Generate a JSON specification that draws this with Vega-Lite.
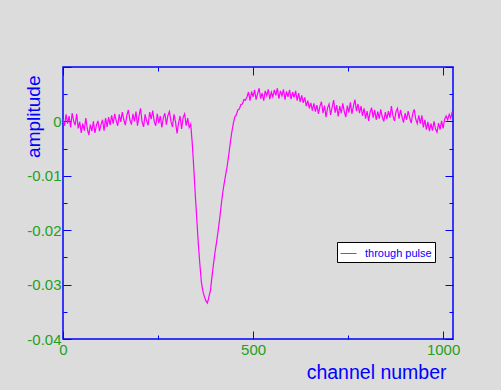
{
  "$schema": "https://vega.github.io/schema/vega-lite/v6.json",
  "autosize": {"type": "none"},
  "width": 390,
  "height": 272,
  "padding": {"left": 63, "top": 67, "right": 48, "bottom": 51},
  "background": "#dcdcdc",
  "config": {
    "view": {"stroke": "#0000ff", "strokeWidth": 1.5, "fill": null},
    "font": "Liberation Sans"
  },
  "data": {"values": [
    {"ch":0,"amp":0.0004},{"ch":4,"amp":-0.0008},{"ch":8,"amp":0.0013},{"ch":12,"amp":-0.0004},{"ch":16,"amp":0.001},{"ch":20,"amp":-0.0011},{"ch":24,"amp":0.0015},{"ch":28,"amp":0.0001},{"ch":32,"amp":-0.0007},{"ch":36,"amp":0.0014},
    {"ch":40,"amp":-0.0013},{"ch":44,"amp":-0.0001},{"ch":48,"amp":-0.0021},{"ch":52,"amp":-0.0004},{"ch":56,"amp":-0.0017},{"ch":60,"amp":0.0006},{"ch":64,"amp":-0.0014},{"ch":68,"amp":-0.0025},{"ch":72,"amp":-0.0006},{"ch":76,"amp":-0.0018},
    {"ch":80,"amp":0.0},{"ch":84,"amp":-0.0021},{"ch":88,"amp":-0.0007},{"ch":92,"amp":0.0001},{"ch":96,"amp":-0.0018},{"ch":100,"amp":-0.0006},{"ch":104,"amp":0.0003},{"ch":108,"amp":-0.0017},{"ch":112,"amp":0.0006},{"ch":116,"amp":-0.001},
    {"ch":120,"amp":0.0008},{"ch":124,"amp":-0.0007},{"ch":128,"amp":0.0011},{"ch":132,"amp":-0.0004},{"ch":136,"amp":0.0014},{"ch":140,"amp":0.0001},{"ch":144,"amp":-0.0008},{"ch":148,"amp":0.0013},{"ch":152,"amp":-0.0001},{"ch":156,"amp":0.0017},
    {"ch":160,"amp":0.0003},{"ch":164,"amp":-0.0007},{"ch":168,"amp":0.0011},{"ch":172,"amp":0.0021},{"ch":176,"amp":0.0003},{"ch":180,"amp":-0.0006},{"ch":184,"amp":0.0014},{"ch":188,"amp":0.0},{"ch":192,"amp":0.0018},{"ch":196,"amp":-0.0008},
    {"ch":200,"amp":0.001},{"ch":204,"amp":0.0024},{"ch":208,"amp":-0.0001},{"ch":212,"amp":-0.001},{"ch":216,"amp":0.0013},{"ch":220,"amp":0.0001},{"ch":224,"amp":-0.0007},{"ch":228,"amp":0.0017},{"ch":232,"amp":0.0004},{"ch":236,"amp":0.002},
    {"ch":240,"amp":0.0},{"ch":244,"amp":-0.0008},{"ch":248,"amp":0.0014},{"ch":252,"amp":-0.0003},{"ch":256,"amp":0.001},{"ch":260,"amp":-0.0011},{"ch":264,"amp":0.0007},{"ch":268,"amp":0.0015},{"ch":272,"amp":-0.0006},{"ch":276,"amp":0.0011},
    {"ch":280,"amp":0.0018},{"ch":284,"amp":0.0},{"ch":288,"amp":-0.001},{"ch":292,"amp":0.0013},{"ch":296,"amp":-0.0001},{"ch":300,"amp":-0.0022},{"ch":304,"amp":-0.0003},{"ch":308,"amp":0.001},{"ch":312,"amp":-0.0014},{"ch":316,"amp":0.0007},
    {"ch":320,"amp":0.0014},{"ch":324,"amp":-0.0008},{"ch":328,"amp":0.0006},{"ch":332,"amp":-0.0011},
    {"ch":336,"amp":-0.0005},{"ch":340,"amp":-0.004},{"ch":344,"amp":-0.0085},{"ch":348,"amp":-0.0135},{"ch":352,"amp":-0.018},{"ch":356,"amp":-0.0225},{"ch":360,"amp":-0.0262},{"ch":364,"amp":-0.0295},{"ch":368,"amp":-0.0312},{"ch":372,"amp":-0.0322},
    {"ch":376,"amp":-0.033},{"ch":380,"amp":-0.0334},{"ch":384,"amp":-0.0322},{"ch":388,"amp":-0.031},{"ch":392,"amp":-0.0285},{"ch":396,"amp":-0.0262},{"ch":400,"amp":-0.024},{"ch":404,"amp":-0.0222},{"ch":408,"amp":-0.0202},{"ch":412,"amp":-0.018},
    {"ch":416,"amp":-0.0155},{"ch":420,"amp":-0.0132},{"ch":424,"amp":-0.0114},{"ch":428,"amp":-0.0098},{"ch":432,"amp":-0.0082},{"ch":436,"amp":-0.0062},{"ch":440,"amp":-0.004},{"ch":444,"amp":-0.002},{"ch":448,"amp":-0.0004},{"ch":452,"amp":0.0008},
    {"ch":456,"amp":0.0012},{"ch":460,"amp":0.0021},{"ch":464,"amp":0.0023},{"ch":468,"amp":0.0031},{"ch":472,"amp":0.0032},{"ch":476,"amp":0.004},{"ch":480,"amp":0.0039},
    {"ch":484,"amp":0.0045},{"ch":488,"amp":0.0054},{"ch":492,"amp":0.0038},{"ch":496,"amp":0.0055},{"ch":500,"amp":0.0045},{"ch":504,"amp":0.0058},{"ch":508,"amp":0.004},{"ch":512,"amp":0.0051},{"ch":516,"amp":0.0061},{"ch":520,"amp":0.0042},
    {"ch":524,"amp":0.0052},{"ch":528,"amp":0.0038},{"ch":532,"amp":0.0056},{"ch":536,"amp":0.0047},{"ch":540,"amp":0.0059},{"ch":544,"amp":0.0041},{"ch":548,"amp":0.0054},{"ch":552,"amp":0.0045},{"ch":556,"amp":0.0058},{"ch":560,"amp":0.0048},
    {"ch":564,"amp":0.0061},{"ch":568,"amp":0.0042},{"ch":572,"amp":0.0056},{"ch":576,"amp":0.0047},{"ch":580,"amp":0.0059},{"ch":584,"amp":0.004},{"ch":588,"amp":0.0055},{"ch":592,"amp":0.0045},{"ch":596,"amp":0.0058},{"ch":600,"amp":0.0041},
    {"ch":604,"amp":0.0054},{"ch":608,"amp":0.0044},{"ch":612,"amp":0.0056},{"ch":616,"amp":0.0038},{"ch":620,"amp":0.0052},{"ch":624,"amp":0.0036},{"ch":628,"amp":0.0048},{"ch":632,"amp":0.0034},{"ch":636,"amp":0.0044},{"ch":640,"amp":0.0028},
    {"ch":644,"amp":0.0038},{"ch":648,"amp":0.0024},{"ch":652,"amp":0.0034},{"ch":656,"amp":0.002},
    {"ch":660,"amp":0.0033},{"ch":664,"amp":0.0018},{"ch":668,"amp":0.003},{"ch":672,"amp":0.0014},{"ch":676,"amp":0.0028},{"ch":680,"amp":0.0036},{"ch":684,"amp":0.0015},{"ch":688,"amp":0.0029},{"ch":692,"amp":0.0008},{"ch":696,"amp":0.0025},
    {"ch":700,"amp":0.0032},{"ch":704,"amp":0.0012},{"ch":708,"amp":0.0026},{"ch":712,"amp":0.0039},{"ch":716,"amp":0.0016},{"ch":720,"amp":0.003},{"ch":724,"amp":0.0009},{"ch":728,"amp":0.0028},{"ch":732,"amp":0.0015},{"ch":736,"amp":0.0033},
    {"ch":740,"amp":0.0018},{"ch":744,"amp":0.0008},{"ch":748,"amp":0.0029},{"ch":752,"amp":0.0016},{"ch":756,"amp":0.0035},{"ch":760,"amp":0.0014},{"ch":764,"amp":0.0028},{"ch":768,"amp":0.004},{"ch":772,"amp":0.0019},{"ch":776,"amp":0.0032},
    {"ch":780,"amp":0.0015},{"ch":784,"amp":0.0028},{"ch":788,"amp":0.001},{"ch":792,"amp":0.0024},{"ch":796,"amp":0.0005},{"ch":800,"amp":0.0019},{"ch":804,"amp":0.0001},{"ch":808,"amp":0.0017},{"ch":812,"amp":0.0025},{"ch":816,"amp":0.0007},
    {"ch":820,"amp":0.0021},{"ch":824,"amp":0.0003},{"ch":828,"amp":0.0018},{"ch":832,"amp":0.0005},{"ch":836,"amp":0.0022},{"ch":840,"amp":0.0008},{"ch":844,"amp":0.0},{"ch":848,"amp":0.0017},{"ch":852,"amp":0.0004},{"ch":856,"amp":0.0019},
    {"ch":860,"amp":0.0007},{"ch":864,"amp":0.0028},{"ch":868,"amp":0.001},{"ch":872,"amp":0.0001},{"ch":876,"amp":0.0018},{"ch":880,"amp":0.0024},{"ch":884,"amp":0.0005},{"ch":888,"amp":0.0021},{"ch":892,"amp":0.0008},{"ch":896,"amp":-0.0002},
    {"ch":900,"amp":0.0015},{"ch":904,"amp":0.0003},{"ch":908,"amp":0.0019},{"ch":912,"amp":0.0007},{"ch":916,"amp":-0.0003},{"ch":920,"amp":0.0014},{"ch":924,"amp":0.0022},{"ch":928,"amp":0.0004},{"ch":932,"amp":-0.0004},{"ch":936,"amp":0.0011},
    {"ch":940,"amp":-0.0004},{"ch":944,"amp":0.0011},{"ch":948,"amp":-0.0011},{"ch":952,"amp":0.0003},{"ch":956,"amp":-0.0015},{"ch":960,"amp":-0.0001},{"ch":964,"amp":-0.0018},{"ch":968,"amp":-0.0004},{"ch":972,"amp":-0.0017},{"ch":976,"amp":0.0},
    {"ch":980,"amp":-0.0014},{"ch":984,"amp":-0.002},{"ch":988,"amp":-0.0003},{"ch":992,"amp":-0.0015},{"ch":996,"amp":0.0001},{"ch":1000,"amp":-0.0013},{"ch":1004,"amp":0.0004},{"ch":1008,"amp":0.001},{"ch":1012,"amp":0.0003},{"ch":1016,"amp":0.0013},
    {"ch":1020,"amp":0.0006},{"ch":1024,"amp":0.0018}
  ]},
  "encoding": {
    "x": {"field": "ch", "type": "quantitative", "scale": {"domain": [0, 1026], "nice": false, "zero": false}},
    "y": {"field": "amp", "type": "quantitative", "scale": {"domain": [-0.04, 0.01], "nice": false, "zero": false}}
  },
  "layer": [
    {
      "mark": {"type": "line", "strokeWidth": 1.2, "interpolate": "linear"},
      "encoding": {
        "x": {"field": "ch", "type": "quantitative", "scale": {"domain": [0, 1026], "nice": false, "zero": false},
          "axis": {"orient": "bottom", "values": [0, 250, 500, 750, 1000], "domain": false, "grid": false, "labelFlush": false, "labelOverlap": false,
            "labelExpr": "datum.value % 500 === 0 ? '' + datum.value : ''",
            "tickColor": "#0000ff", "tickWidth": 1,
            "tickSize": {"condition": {"test": "datum.value % 500 === 0", "value": -8}, "value": -4},
            "labelColor": "#22a022", "labelFontSize": 15, "labelPadding": 11, "labelFont": "Liberation Sans",
            "title": "channel number", "titleColor": "#0000ff", "titleFontSize": 19.5, "titleFontWeight": "normal", "titleFont": "Liberation Sans",
            "titleAnchor": "end", "titleAlign": "right", "titleX": 383, "titleY": 33, "titleBaseline": "middle"}},
        "y": {"field": "amp", "type": "quantitative", "scale": {"domain": [-0.04, 0.01], "nice": false, "zero": false},
          "axis": {"orient": "left", "values": [-0.04, -0.035, -0.03, -0.025, -0.02, -0.015, -0.01, -0.005, 0, 0.005, 0.01], "domain": false, "grid": false, "labelFlush": false, "labelOverlap": false,
            "labelExpr": "datum.value > 0.005 ? '' : abs(datum.value) < 1e-9 ? '0' : abs(datum.value*100 - round(datum.value*100)) < 1e-6 ? '-0.0' + (-round(datum.value*100)) : ''",
            "tickColor": "#0000ff", "tickWidth": 1,
            "tickSize": {"condition": {"test": "abs(datum.value*100 - round(datum.value*100)) < 1e-6", "value": -8}, "value": -4},
            "labelColor": "#22a022", "labelFontSize": 15, "labelPadding": 10, "labelFont": "Liberation Sans",
            "title": "amplitude", "titleColor": "#0000ff", "titleFontSize": 19, "titleFontWeight": "normal", "titleFont": "Liberation Sans",
            "titleAnchor": "end", "titleAlign": "right", "titleY": 8, "titleX": -30, "titleBaseline": "middle"}},
        "color": {"datum": "through pulse", "type": "nominal",
          "scale": {"range": ["#ff00ff"]},
          "legend": {"orient": "none", "legendX": 274, "legendY": 175, "title": null,
            "fillColor": "#ffffff", "strokeColor": "#000000", "padding": 3,
            "symbolType": "stroke", "symbolSize": 256, "symbolStrokeWidth": 1,
            "labelColor": "#0000ff", "labelFontSize": 11, "labelFont": "Liberation Sans", "labelOffset": 8}}
      }
    },
    {
      "mark": {"type": "line", "strokeOpacity": 0},
      "encoding": {
        "x": {"field": "ch", "type": "quantitative",
          "axis": {"orient": "top", "values": [0, 250, 500, 750, 1000], "domain": false, "grid": false, "labels": false, "title": null,
            "tickColor": "#0000ff", "tickWidth": 1,
            "tickSize": {"condition": {"test": "datum.value % 500 === 0", "value": -8}, "value": -4}}},
        "y": {"field": "amp", "type": "quantitative",
          "axis": {"orient": "right", "values": [-0.04, -0.035, -0.03, -0.025, -0.02, -0.015, -0.01, -0.005, 0, 0.005, 0.01], "domain": false, "grid": false, "labels": false, "title": null,
            "tickColor": "#0000ff", "tickWidth": 1,
            "tickSize": {"condition": {"test": "abs(datum.value*100 - round(datum.value*100)) < 1e-6", "value": -8}, "value": -4}}}
      }
    }
  ],
  "resolve": {"axis": {"x": "independent", "y": "independent"}}
}
